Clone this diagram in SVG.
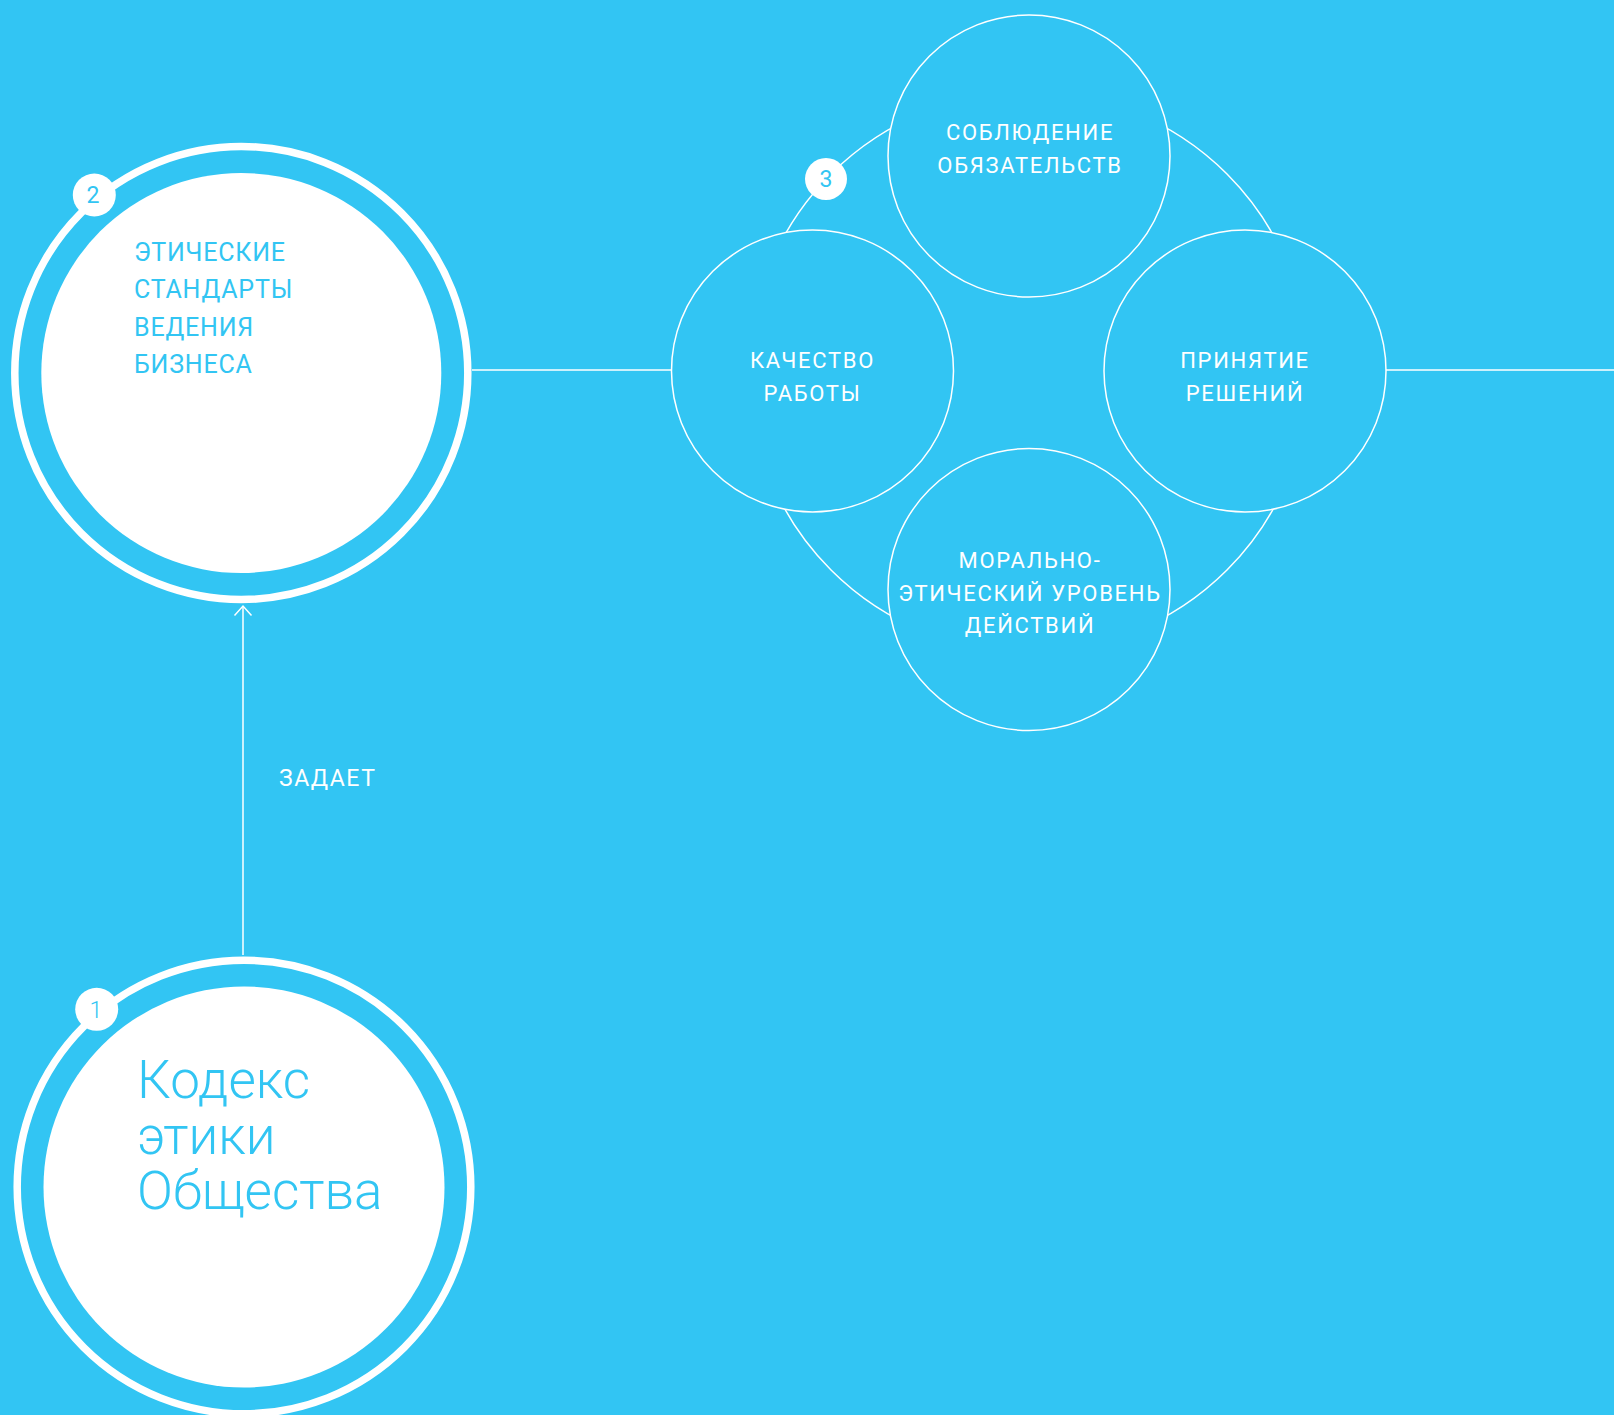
<svg xmlns="http://www.w3.org/2000/svg" width="1614" height="1415" viewBox="0 0 1614 1415">
  <defs>
    <style>
      .ring { fill: none; stroke: #ffffff; stroke-width: 7.5; }
      .disk { fill: #ffffff; }
      .badge { fill: #ffffff; }
      .badge-t { fill: #32c5f3; font-family: Roboto, "Liberation Sans", sans-serif; font-size: 23px; text-anchor: middle; }
      .line { fill: none; stroke: #ffffff; stroke-width: 1.5; }
      .node { fill: #32c5f3; stroke: #ffffff; stroke-width: 1.5; }
      .ct { fill: #ffffff; font-family: Roboto, "Liberation Sans", sans-serif; font-size: 22px; letter-spacing: 1.7px; text-anchor: middle; }
      .big2 { fill: #32c5f3; font-family: Roboto, "Liberation Sans", sans-serif; font-size: 25px; letter-spacing: 0.8px; }
      .big1 { fill: #32c5f3; font-family: Roboto, "Liberation Sans", sans-serif; font-weight: 300; font-size: 53px; }
      .lbl { fill: #ffffff; font-family: Roboto, "Liberation Sans", sans-serif; font-size: 23px; letter-spacing: 1.5px; }
    </style>
    <marker id="arr" viewBox="0 0 20 20" refX="10" refY="10" markerWidth="20" markerHeight="20" markerUnits="userSpaceOnUse" orient="auto">
      <path d="M0.5,1.5 L10,10 L0.5,18.5" fill="none" stroke="#ffffff" stroke-width="1.5"/>
    </marker>
  </defs>
  <rect width="1614" height="1415" fill="#32c5f3"/>

  <g id="connectors">
    <line class="line" x1="472" y1="370" x2="672" y2="370"/>
    <line class="line" x1="1386" y1="370" x2="1614" y2="370"/>
    <line class="line" x1="243" y1="955" x2="243" y2="606" marker-end="url(#arr)"/>
    <circle class="line" cx="1029" cy="372" r="280"/>
  </g>

  <g id="label-zadaet">
    <text class="lbl" x="279" y="786">ЗАДАЕТ</text>
  </g>

  <g id="node-2">
    <circle class="ring" cx="241.3" cy="373" r="226.5"/>
    <circle class="disk" cx="241.3" cy="373" r="200"/>
    <circle class="badge" cx="94.3" cy="195" r="21.5"/>
    <text class="badge-t" x="93" y="203">2</text>
    <text class="big2"><tspan x="134" y="260.7">ЭТИЧЕСКИЕ</tspan><tspan x="134" y="298.2">СТАНДАРТЫ</tspan><tspan x="134" y="335.6">ВЕДЕНИЯ</tspan><tspan x="134" y="373">БИЗНЕСА</tspan></text>
  </g>

  <g id="node-1">
    <circle class="ring" cx="244" cy="1187" r="226.8"/>
    <circle class="disk" cx="244" cy="1187" r="200.5"/>
    <circle class="badge" cx="96.7" cy="1009.3" r="21.5"/>
    <text class="badge-t" x="96" y="1017.5" font-weight="300">1</text>
    <text class="big1"><tspan x="137" y="1098.3">Кодекс</tspan><tspan x="137" y="1153.5">этики</tspan><tspan x="137" y="1209.3">Общества</tspan></text>
  </g>

  <g id="node-top">
    <circle class="node" cx="1029" cy="156" r="141"/>
    <text class="ct"><tspan x="1030" y="140">СОБЛЮДЕНИЕ</tspan><tspan x="1030" y="172.7">ОБЯЗАТЕЛЬСТВ</tspan></text>
  </g>

  <g id="node-left">
    <circle class="node" cx="812.5" cy="371" r="141"/>
    <text class="ct"><tspan x="812.5" y="367.5">КАЧЕСТВО</tspan><tspan x="812.5" y="401">РАБОТЫ</tspan></text>
  </g>

  <g id="node-right">
    <circle class="node" cx="1245" cy="371" r="141"/>
    <text class="ct"><tspan x="1245" y="368.3">ПРИНЯТИЕ</tspan><tspan x="1245" y="401">РЕШЕНИЙ</tspan></text>
  </g>

  <g id="node-bottom">
    <circle class="node" cx="1029" cy="589.5" r="141"/>
    <text class="ct"><tspan x="1030" y="568.3">МОРАЛЬНО-</tspan><tspan x="1030" y="601">ЭТИЧЕСКИЙ УРОВЕНЬ</tspan><tspan x="1030" y="633.3">ДЕЙСТВИЙ</tspan></text>
  </g>

  <g id="badge-3">
    <circle class="badge" cx="826" cy="179" r="21"/>
    <text class="badge-t" x="826" y="187">3</text>
  </g>
</svg>
